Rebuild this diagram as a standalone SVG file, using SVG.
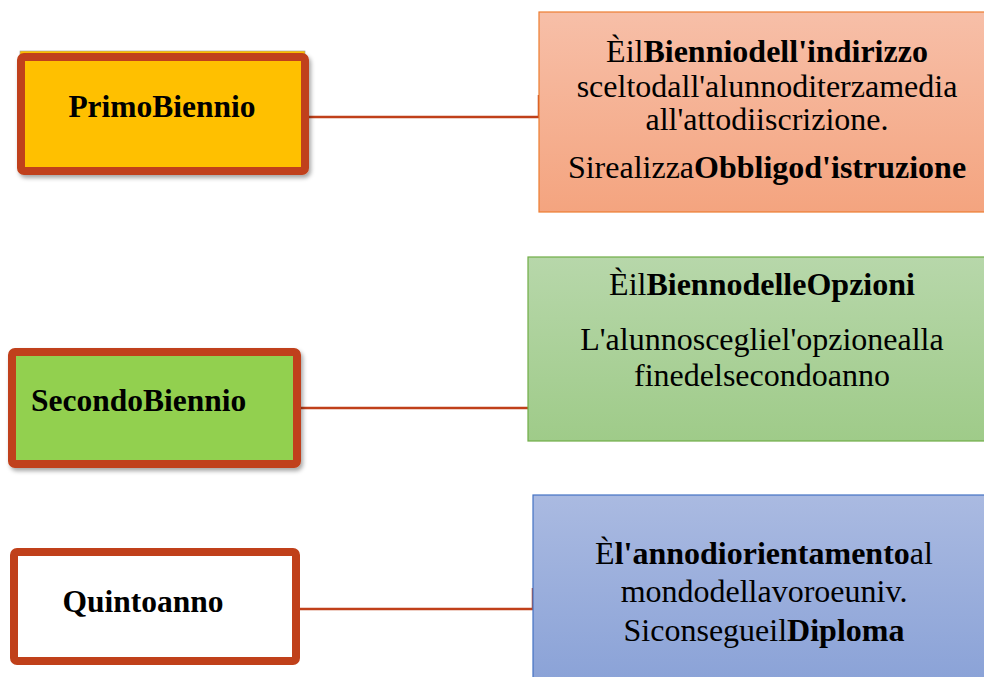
<svg xmlns="http://www.w3.org/2000/svg" width="984" height="677" viewBox="0 0 984 677">
<style>
  text { font-family: "Liberation Serif", "Times New Roman", serif; font-size: 32px; fill: #000; }
  .lbl { font-size: 31.5px; font-weight: bold; }
  .b { font-weight: bold; }
  .node { stroke: #C0401A; stroke-width: 8; }
  .conn { fill: none; stroke: #C0401A; stroke-width: 2.5; }
</style>
<defs>
  <filter id="sh" x="-10%" y="-10%" width="125%" height="130%">
    <feDropShadow dx="2" dy="3" stdDeviation="2" flood-color="#000" flood-opacity="0.35"/>
  </filter>
  <linearGradient id="gOr" x1="0" y1="0" x2="0" y2="1">
    <stop offset="0" stop-color="#F7BFA8"/>
    <stop offset="1" stop-color="#F4A47F"/>
  </linearGradient>
  <linearGradient id="gGr" x1="0" y1="0" x2="0" y2="1">
    <stop offset="0" stop-color="#B7D7AA"/>
    <stop offset="1" stop-color="#9FCB89"/>
  </linearGradient>
  <linearGradient id="gBl" x1="0" y1="0" x2="0" y2="1">
    <stop offset="0" stop-color="#AABAE1"/>
    <stop offset="1" stop-color="#8AA2D7"/>
  </linearGradient>
</defs>

<g id="connectors">
  <path class="conn" d="M309,117 H539 V95"/>
  <path class="conn" d="M301,408 H528"/>
  <path class="conn" d="M300,609 H533 V588"/>
</g>

<g id="primo-biennio">
  <rect x="20" y="51" width="285" height="115" fill="#FFC000" stroke="#9a9a9a" stroke-width="0.6"/>
  <rect class="node" x="21" y="57" width="284" height="114" rx="3" fill="#FFC000" filter="url(#sh)"/>
  <text class="lbl" x="162" y="117" text-anchor="middle">PrimoBiennio</text>
</g>

<g id="secondo-biennio">
  <rect class="node" x="12" y="352" width="285" height="112" rx="3" fill="#92D050" filter="url(#sh)"/>
  <text class="lbl" x="31" y="411">SecondoBiennio</text>
</g>

<g id="quinto-anno">
  <rect class="node" x="14" y="552" width="282" height="109" rx="3" fill="#FFFFFF"/>
  <text class="lbl" x="143" y="612" text-anchor="middle">Quintoanno</text>
</g>

<g id="desc-primo">
  <rect x="539" y="12" width="450" height="200" fill="url(#gOr)" stroke="#ED7D31" stroke-width="1.2"/>
  <text x="767" y="62" text-anchor="middle">Èil<tspan class="b">Bienniodell'indirizzo</tspan></text>
  <text x="767" y="97" text-anchor="middle">sceltodall'alunnoditerzamedia</text>
  <text x="767" y="130" text-anchor="middle">all'attodiiscrizione.</text>
  <text x="767" y="178" text-anchor="middle">Sirealizza<tspan class="b">Obbligod'istruzione</tspan></text>
</g>

<g id="desc-secondo">
  <rect x="528" y="257" width="460" height="184" fill="url(#gGr)" stroke="#70AD47" stroke-width="1.2"/>
  <text x="762" y="295" text-anchor="middle">Èil<tspan class="b">BiennodelleOpzioni</tspan></text>
  <text x="762" y="350" text-anchor="middle">L'alunnoscegliel'opzionealla</text>
  <text x="762" y="386" text-anchor="middle">finedelsecondoanno</text>
</g>

<g id="desc-quinto">
  <rect x="533" y="495" width="455" height="190" fill="url(#gBl)" stroke="#4472C4" stroke-width="1.2"/>
  <text x="764" y="564" text-anchor="middle">È<tspan class="b">l'annodiorientamento</tspan>al</text>
  <text x="764" y="602" text-anchor="middle">mondodellavoroeuniv.</text>
  <text x="764" y="641" text-anchor="middle">Siconsegueil<tspan class="b">Diploma</tspan></text>
</g>
</svg>
